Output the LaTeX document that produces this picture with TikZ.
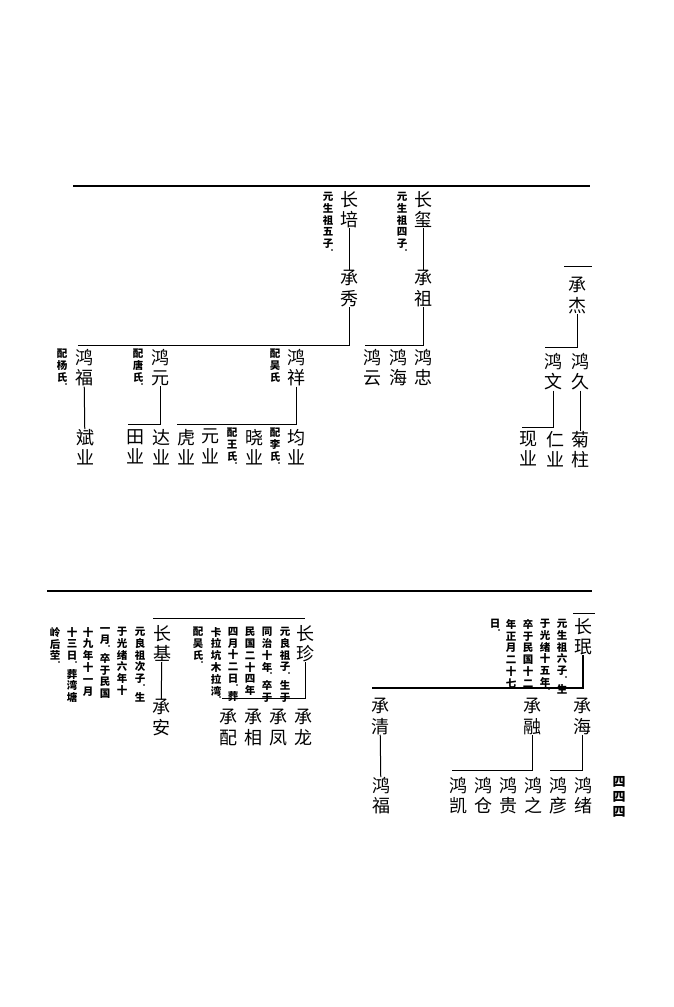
\documentclass[tikz,border=0pt]{standalone}
\usepackage{fontspec}
\usepackage{tikz}
\newfontfamily\cjk{Noto Sans CJK SC}
\newfontfamily\cjkv[RawFeature=+vert]{Noto Sans CJK SC}
\makeatletter
\def\vdot{。}
\newcommand\vtext[1]{\vbox{\@tfor\vch:=#1\do{%
  \ifx\vch\vdot\vskip-5.2pt\hbox to 1em{\hss\fontsize{6}{6}\selectfont\vch}%
  \else\hbox to 1em{\hss\vch\hss}\fi}}}
\makeatother

\begin{document}
\begin{tikzpicture}[x=1pt,y=-1pt,
    person/.style={font=\cjk\fontsize{18}{20.5}\selectfont,inner sep=0pt,anchor=north},
    remark/.style={font=\cjkv\bfseries\fontsize{10.5}{11.8}\selectfont,inner sep=0pt,anchor=north},
    link/.style={line width=1pt},
    pagerule/.style={line width=1.5pt}]
      \useasboundingbox (0,0) rectangle (674,1007);
      % upper half
      \draw[pagerule] (73,186) -- (590,186);
      \node[person](changpei) at (349,191){\vtext{长培}};
      \node[remark](npei) at (328,192){\vtext{元生祖五子。}};
      \node[person](chengxiu) at (349,270){\vtext{承秀}};
      \node[person](changxi) at (423,191){\vtext{长玺}};
      \node[remark](nxi) at (402,192){\vtext{元生祖四子。}};
      \node[person](chengzu) at (423,270){\vtext{承祖}};
      \node[person](hongzhong) at (423,349){\vtext{鸿忠}};
      \node[person](honghai) at (398,349){\vtext{鸿海}};
      \node[person](hongyun) at (372,349){\vtext{鸿云}};
      \node[person](hongxiang) at (296,349){\vtext{鸿祥}};
      \node[remark](nxiang) at (275,349){\vtext{配吴氏}};
      \node[person](hongyuan) at (160,349){\vtext{鸿元}};
      \node[remark](nyuan) at (138,349){\vtext{配唐氏。}};
      \node[person](hongfu) at (84,349){\vtext{鸿福}};
      \node[remark](nfu) at (62,349){\vtext{配杨氏。}};
      \node[person](junye) at (296,429){\vtext{均业}};
      \node[remark](njun) at (275,428){\vtext{配李氏。}};
      \node[person](xiaoye) at (254,429){\vtext{晓业}};
      \node[remark](nxiao) at (232,428){\vtext{配王氏。}};
      \node[person](yuanye) at (210,429){\vtext{元业}};
      \node[person](huye) at (186,429){\vtext{虎业}};
      \node[person](daye) at (161,429){\vtext{达业}};
      \node[person](tianye) at (135,429){\vtext{田业}};
      \node[person](binye) at (85,429){\vtext{斌业}};
      \node[person](chengjie) at (577,277){\vtext{承杰}};
      \node[person](hongjiu) at (580,353){\vtext{鸿久}};
      \node[person](hongwen) at (553,353){\vtext{鸿文}};
      \node[person](juzhu) at (580,431){\vtext{菊柱}};
      \node[person](renye) at (555,431){\vtext{仁业}};
      \node[person](xianye) at (528,431){\vtext{现业}};
      \coordinate (xiubar) at (78,345);
      \coordinate (zubar) at (365,345);
      \coordinate (yuanbar) at (128,424);
      \coordinate (xiangbar) at (177,424);
      \coordinate (jiebar) at (545,347);
      \coordinate (wenbar) at (522,427);
      \draw[link] (changpei) -- (chengxiu);
      \draw[link] (chengxiu.south) |- (xiubar);
      \draw[link] (changxi) -- (chengzu);
      \draw[link] (chengzu.south) |- (zubar);
      \draw[link] (hongfu) -- (binye);
      \draw[link] (hongyuan.south) |- (yuanbar);
      \draw[link] (hongxiang.south) |- (xiangbar);
      \draw[link] (564,266) -- (592,266);
      \draw[link] (chengjie.south) |- (jiebar);
      \draw[link] (hongwen.south) |- (wenbar);
      \draw[link] (hongjiu) -- (juzhu);
      % lower half
      \draw[pagerule] (47,591) -- (592,591);
      \draw[link] (153,618) -- (305,618);
      \node[person](changji) at (162,625){\vtext{长基}};
      \node[person](chengan) at (161,699){\vtext{承安}};
      \node[remark](nji1) at (140,627){\vtext{元良祖次子。生}};
      \node[remark](nji2) at (122,627){\vtext{于光绪六年十}};
      \node[remark](nji3) at (105,627){\vtext{一月。卒于民国}};
      \node[remark](nji4) at (88,627){\vtext{十九年十一月}};
      \node[remark](nji5) at (72,627){\vtext{十三日。葬湾塘}};
      \node[remark](nji6) at (55,627){\vtext{岭后茔。}};
      \node[person](changzhen) at (305,625){\vtext{长珍}};
      \node[remark](nzhen1) at (285,627){\vtext{元良祖子。生于}};
      \node[remark](nzhen2) at (267,627){\vtext{同治十年。卒于}};
      \node[remark](nzhen3) at (250,627){\vtext{民国二十四年}};
      \node[remark](nzhen4) at (233,627){\vtext{四月十二日。葬}};
      \node[remark](nzhen5) at (216,627){\vtext{卡拉坑木拉湾。}};
      \node[remark](nzhen6) at (198,627){\vtext{配吴氏。}};
      \node[person](chenglong) at (303,709){\vtext{承龙}};
      \node[person](chengfeng) at (278,709){\vtext{承凤}};
      \node[person](chengxiang) at (253,709){\vtext{承相}};
      \node[person](chengpei) at (228,709){\vtext{承配}};
      \coordinate (zhenbar) at (222,698);
      \draw[link] (changji) -- (chengan);
      \draw[link] (changzhen.south) |- (zhenbar);
      \draw[link] (573,613) -- (595,613);
      \node[person](changmin) at (583,618){\vtext{长珉}};
      \node[remark](nmin1) at (562,619){\vtext{元生祖六子。生}};
      \node[remark](nmin2) at (545,619){\vtext{于光绪十五年。}};
      \node[remark](nmin3) at (528,619){\vtext{卒于民国十二}};
      \node[remark](nmin4) at (511,619){\vtext{年正月二十七}};
      \node[remark](nmin5) at (495,619){\vtext{日。}};
      \node[person](chenghai) at (582,698){\vtext{承海}};
      \node[person](chengrong) at (532,698){\vtext{承融}};
      \node[person](chengqing) at (380,698){\vtext{承清}};
      \node[person](hongxu) at (583,777){\vtext{鸿绪}};
      \node[person](hongyan) at (558,777){\vtext{鸿彦}};
      \node[person](hongzhi) at (533,777){\vtext{鸿之}};
      \node[person](honggui) at (508,777){\vtext{鸿贵}};
      \node[person](hongcang) at (483,777){\vtext{鸿仓}};
      \node[person](hongkai) at (458,777){\vtext{鸿凯}};
      \node[person](hongfub) at (381,777){\vtext{鸿福}};
      \coordinate (minbar) at (372,688);
      \coordinate (haibar) at (550,770);
      \coordinate (rongbar) at (452,770);
      \draw[pagerule] (changmin.south) |- (minbar);
      \draw[link] (chenghai.south) |- (haibar);
      \draw[link] (chengrong.south) |- (rongbar);
      \draw[link] (chengqing) -- (hongfub);
      % page number
      \node[remark,font=\cjk\bfseries\fontsize{13}{15}\selectfont](pageno) at (619,776){\vtext{四四四}};
    \end{tikzpicture}
\end{document}
